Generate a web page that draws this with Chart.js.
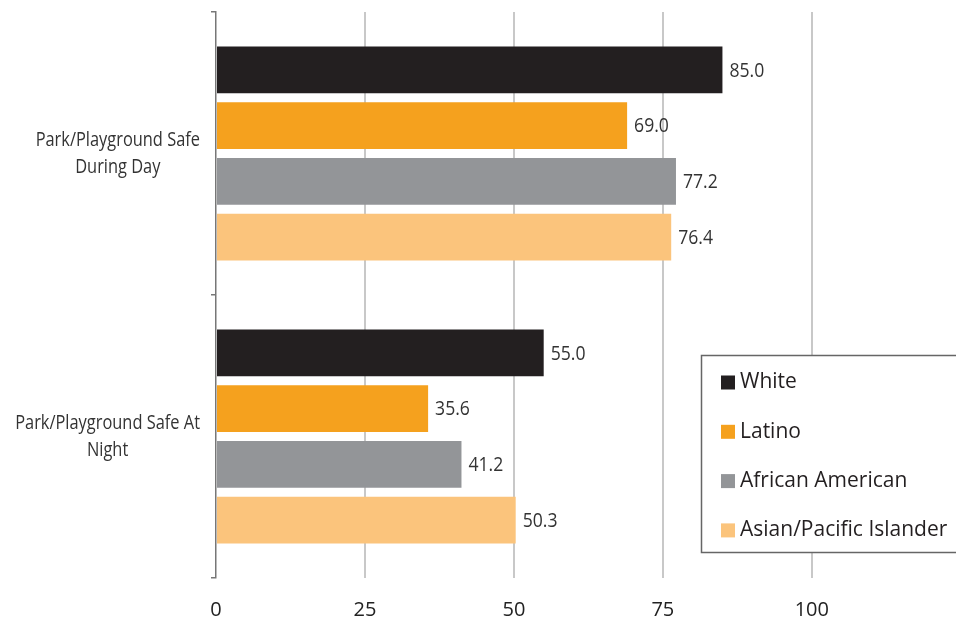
<!DOCTYPE html>
<html>
<head>
<meta charset="utf-8">
<script src="https://cdn.jsdelivr.net/npm/chart.js@4"></script>
<style>
  html, body { margin: 0; padding: 0; background: #fff; }
  #wrap { width: 956px; height: 621px; position: relative; }
</style>
</head>
<body>
<div id="wrap"><canvas id="chart"></canvas></div>
<script>
// ---- data ----
const categories = [
  ['Park/Playground Safe', 'During Day'],
  ['Park/Playground Safe At', 'Night']
];
const seriesNames = ['White', 'Latino', 'African American', 'Asian/Pacific Islander'];
const white = [85.0, 55.0];
const latino = [69.0, 35.6];
const africanAmerican = [77.2, 41.2];
const asianPacific = [76.4, 50.3];
const xTicks = [0, 25, 50, 75, 100];

const colors = ['#231f20', '#f5a11e', '#939598', '#fbc47c'];
const font = '"Open Sans", sans-serif';

// text squeezed sideways to mimic the condensed face of the original
function squeezedText(ctx, text, x, y, sx) {
  ctx.save();
  ctx.translate(x, y);
  ctx.scale(sx, 1);
  ctx.fillText(text, 0, 0);
  ctx.restore();
}

// value labels at the end of each bar
const valueLabels = {
  id: 'valueLabels',
  afterDatasetsDraw(chart) {
    const ctx = chart.ctx;
    ctx.save();
    ctx.font = '20px ' + font;
    ctx.fillStyle = '#333';
    ctx.textAlign = 'left';
    ctx.textBaseline = 'middle';
    chart.data.datasets.forEach((ds, i) => {
      chart.getDatasetMeta(i).data.forEach((bar, j) => {
        squeezedText(ctx, ds.data[j].toFixed(1), bar.x + 7, bar.y + 1, 0.88);
      });
    });
    ctx.restore();
  }
};

// category labels: lines centred with each other, block right-aligned to the axis
const catLabels = {
  id: 'catLabels',
  afterDraw(chart) {
    const ctx = chart.ctx, y = chart.scales.y;
    const sx = 0.82;
    ctx.save();
    ctx.font = '20px ' + font;
    ctx.fillStyle = '#333';
    ctx.textAlign = 'center';
    ctx.textBaseline = 'middle';
    const right = y.right - 16;
    chart.data.labels.forEach((lines, i) => {
      const w = Math.max(...lines.map(l => ctx.measureText(l).width)) * sx;
      const cx = right - w / 2;
      const cy = y.getPixelForValue(i);
      const lh = 27;
      lines.forEach((l, k) => {
        squeezedText(ctx, l, cx, cy + (k - (lines.length - 1) / 2) * lh, sx);
      });
    });
    ctx.restore();
  }
};

// boxed legend inside the plot
const boxLegend = {
  id: 'boxLegend',
  afterDraw(chart) {
    const ctx = chart.ctx;
    ctx.save();
    const bx = 701.5, by = 355.5, bw = 260, bh = 197;
    ctx.fillStyle = '#fff';
    ctx.fillRect(bx, by, bw, bh);
    ctx.strokeStyle = '#666';
    ctx.lineWidth = 1.5;
    ctx.strokeRect(bx, by, bw, bh);
    ctx.font = '21px ' + font;
    ctx.textAlign = 'left';
    ctx.textBaseline = 'middle';
    chart.data.datasets.forEach((ds, i) => {
      const cy = by + 27 + i * 49.3;
      ctx.fillStyle = ds.backgroundColor;
      ctx.fillRect(721, cy - 7, 14, 14);
      ctx.fillStyle = '#231f20';
      ctx.fillText(ds.label, 740, cy);
    });
    ctx.restore();
  }
};

const seriesData = [white, latino, africanAmerican, asianPacific];

new Chart(document.getElementById('chart'), {
  type: 'bar',
  data: {
    labels: categories,
    datasets: seriesNames.map((name, i) => ({
      label: name,
      data: seriesData[i],
      backgroundColor: colors[i],
      borderWidth: 0,
      categoryPercentage: 0.787,
      barPercentage: 0.84
    }))
  },
  options: {
    indexAxis: 'y',
    responsive: true,
    maintainAspectRatio: false,
    animation: false,
    layout: { padding: { top: 12, right: 0, bottom: 0, left: 0 } },
    plugins: { legend: { display: false }, tooltip: { enabled: false } },
    scales: {
      x: {
        min: 0,
        max: 124.2,
        afterBuildTicks(scale) { scale.ticks = xTicks.map(v => ({ value: v })); },
        afterFit(scale) { scale.height = 43; },
        border: { display: false },
        grid: {
          drawTicks: false,
          lineWidth: 2,
          color: c => (c.tick && c.tick.value === 0) ? 'rgba(0,0,0,0)' : '#c8c8c8'
        },
        ticks: {
          padding: 20,
          color: '#222',
          font: { family: font, size: 20 },
          callback: v => v
        }
      },
      y: {
        afterFit(scale) { scale.width = 216; },
        border: { display: true, color: '#777', width: 1.5 },
        grid: {
          drawOnChartArea: false,
          drawTicks: true,
          tickLength: 5,
          color: '#777',
          lineWidth: 1.5
        },
        ticks: { display: false }
      }
    }
  },
  plugins: [valueLabels, catLabels, boxLegend]
});
</script>
</body>
</html>
